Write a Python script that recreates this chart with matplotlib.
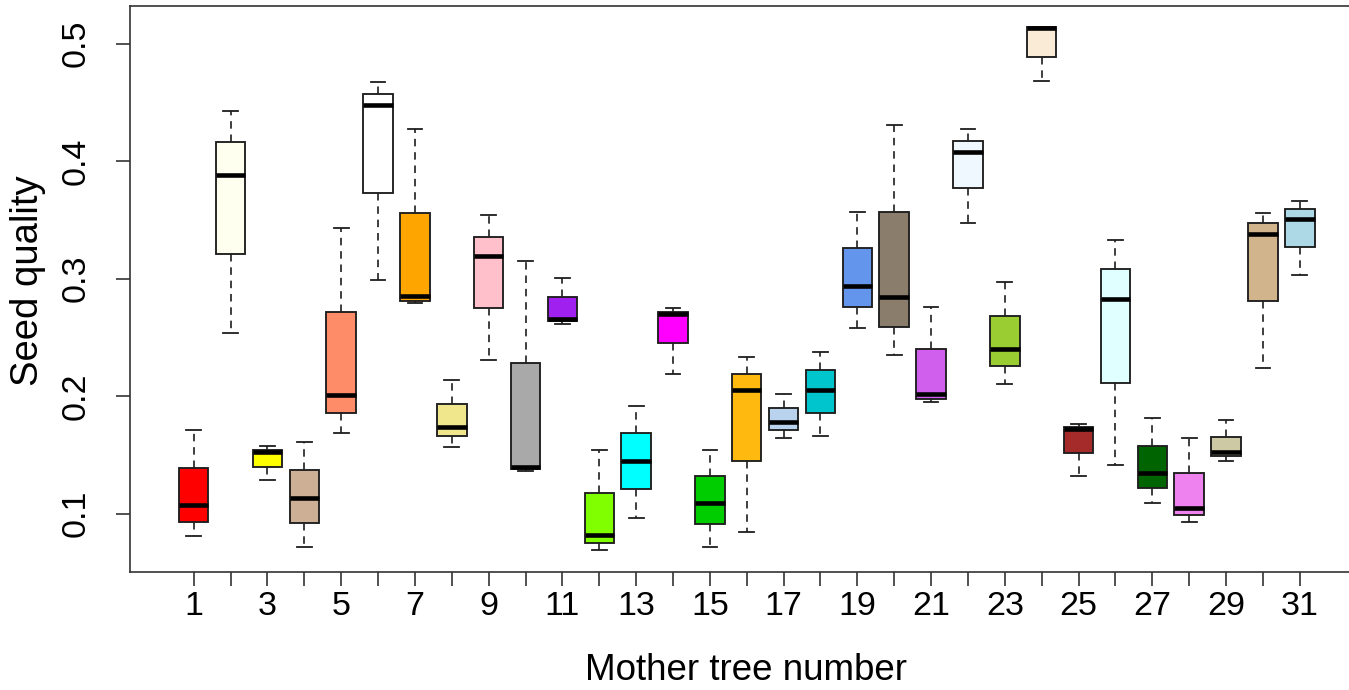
import numpy as np
import matplotlib
matplotlib.use("Agg")
import matplotlib.pyplot as plt

plt.rcParams['font.family'] = ['Liberation Sans', 'DejaVu Sans']

# values (one box per mother tree)
trees = list(range(1, 32))
whis_lo = [0.081, 0.254, 0.129, 0.072, 0.169, 0.299, 0.279, 0.157, 0.231, 0.136, 0.261,
           0.069, 0.096, 0.219, 0.072, 0.084, 0.164, 0.166, 0.258, 0.235, 0.195, 0.347,
           0.210, 0.468, 0.132, 0.141, 0.109, 0.093, 0.145, 0.224, 0.303]
q1 = [0.093, 0.321, 0.140, 0.092, 0.186, 0.373, 0.281, 0.166, 0.275, 0.138, 0.264,
      0.075, 0.121, 0.245, 0.091, 0.145, 0.171, 0.186, 0.276, 0.259, 0.198, 0.377,
      0.226, 0.489, 0.152, 0.211, 0.122, 0.099, 0.149, 0.281, 0.327]
med = [0.107, 0.388, 0.1525, 0.113, 0.201, 0.448, 0.285, 0.174, 0.319, 0.140, 0.266,
       0.0815, 0.145, 0.2696, 0.109, 0.205, 0.178, 0.205, 0.294, 0.284, 0.202, 0.408,
       0.240, 0.513, 0.172, 0.2825, 0.135, 0.105, 0.1524, 0.338, 0.351]
q3 = [0.139, 0.416, 0.154, 0.137, 0.272, 0.457, 0.356, 0.193, 0.3355, 0.228, 0.284,
      0.118, 0.169, 0.272, 0.132, 0.219, 0.190, 0.222, 0.326, 0.357, 0.240, 0.417,
      0.268, 0.514, 0.1735, 0.308, 0.158, 0.135, 0.1656, 0.347, 0.359]
whis_hi = [0.171, 0.443, 0.158, 0.161, 0.343, 0.4675, 0.427, 0.214, 0.354, 0.315, 0.3005,
           0.154, 0.192, 0.2747, 0.154, 0.233, 0.202, 0.238, 0.357, 0.431, 0.276, 0.427,
           0.297, 0.514, 0.176, 0.333, 0.181, 0.164, 0.180, 0.356, 0.366]
colors = ['#FF0000', '#FFFFF0', '#FFFF00', '#CDAF95', '#FF8C69', '#FFFFFF', '#FFA500',
          '#F0E68C', '#FFC0CB', '#A9A9A9', '#A020F0', '#7FFF00', '#00FFFF', '#FF00FF',
          '#00CD00', '#FFB90F', '#B9D3EE', '#00C5CD', '#6495ED', '#8B7D6B', '#D15FEE',
          '#F0F8FF', '#9ACD32', '#FAEBD7', '#A52A2A', '#E0FFFF', '#006400', '#EE82EE',
          '#CDC9A5', '#D2B48C', '#ADD8E6']

stats = []
for i in range(len(trees)):
    stats.append(dict(whislo=whis_lo[i], q1=q1[i], med=med[i], q3=q3[i], whishi=whis_hi[i]))

W, H = 1349, 690
fig = plt.figure(figsize=(W / 100, H / 100), dpi=100)
ax = fig.add_axes([129.5 / W, 1 - 571.5 / H, (1364 - 129.5) / W, (571.5 - 6) / H])

edge = '#1e1e1e'
bp = ax.bxp(stats, positions=trees, widths=0.8, capwidths=0.4, showfliers=False,
            patch_artist=True,
            boxprops=dict(edgecolor=edge, linewidth=1.35),
            medianprops=dict(color='black', linewidth=3.3, solid_capstyle='butt'),
            whiskerprops=dict(color=edge, linewidth=1.2, linestyle=(0, (4.5, 3.5))),
            capprops=dict(color=edge, linewidth=1.3))
for patch, c in zip(bp['boxes'], colors):
    patch.set_facecolor(c)

ax.set_xlim(-0.74, 32.74)
ax.set_ylim(0.0508, 0.532)

ax.set_xticks(trees)
ax.set_xticklabels([str(t) if t % 2 == 1 else '' for t in trees])
ax.set_yticks([0.1, 0.2, 0.3, 0.4, 0.5])
ax.set_yticklabels(['0.1', '0.2', '0.3', '0.4', '0.5'])

ax.tick_params(axis='both', direction='out', length=10, width=1.2, color='#333333',
               labelsize=24.5)
ax.tick_params(axis='x', pad=4)
ax.tick_params(axis='y', pad=17, labelrotation=90)
for lab in ax.get_yticklabels():
    lab.set_va('center')

for s in ax.spines.values():
    s.set_color('#333333')
    s.set_linewidth(1.2)

fig.text(746 / W, 1 - 680 / H, 'Mother tree number', ha='center', va='baseline', fontsize=26.5)
fig.text(28 / W, 1 - 281 / H, 'Seed quality', ha='center', va='center', rotation=90,
         fontsize=27.5)

fig.savefig('out.png', dpi=100)
